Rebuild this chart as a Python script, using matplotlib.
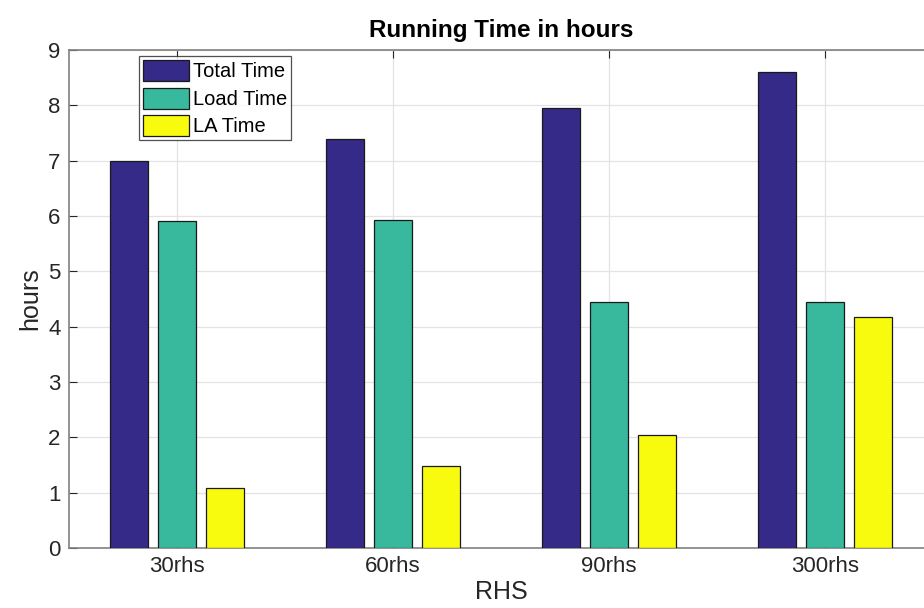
import numpy as np
import matplotlib.pyplot as plt

plt.rcParams['font.family'] = ['Liberation Sans', 'DejaVu Sans']

categories = ['30rhs', '60rhs', '90rhs', '300rhs']
total_time = [7.0, 7.4, 7.96, 8.61]
load_time = [5.91, 5.92, 4.44, 4.44]
la_time = [1.08, 1.49, 2.05, 4.17]

series = [('Total Time', total_time, '#352A87'),
          ('Load Time', load_time, '#38B89D'),
          ('LA Time', la_time, '#F9FB0E')]

fig = plt.figure(figsize=(9.24, 6.08), dpi=100)
# right edge of the axes runs past the figure, like the cropped original
ax = fig.add_axes([0.0747, 0.0987, 1.0097 - 0.0747, 0.9178 - 0.0987])

x = np.arange(1, len(categories) + 1)
step = 0.2222
width = 0.8 * step
for i, (name, vals, col) in enumerate(series):
    ax.bar(x + (i - 1) * step, vals, width, color=col, edgecolor='#1a1a1a',
           linewidth=0.9, label=name, zorder=3)

ax.set_xlim(0.5, 4.5)
ax.set_ylim(0, 9)
ax.set_xticks(x)
ax.set_xticklabels(categories)
ax.set_yticks(range(0, 10))
ax.tick_params(direction='in', length=6, width=0.8, color='#262626',
               labelsize=16, labelcolor='#262626', top=True, right=True, pad=6)
ax.grid(True, color='#E3E3E3', linewidth=0.9, zorder=0)
ax.set_axisbelow(True)
for s in ax.spines.values():
    s.set_color('#808080')
    s.set_linewidth(1.2)

ax.set_title('Running Time in hours', fontsize=17.5, fontweight='bold', pad=9)
ax.set_xlabel('RHS', fontsize=18, color='#262626', labelpad=2)
ax.set_ylabel('hours', fontsize=18, color='#262626', labelpad=4)

leg = ax.legend(loc='upper left', bbox_to_anchor=(0.0735, 1.0), fontsize=14.5,
                frameon=True, fancybox=False, edgecolor='#262626',
                handlelength=2.3, handleheight=1.25, handletextpad=0.2,
                labelspacing=0.3, borderpad=0.2, borderaxespad=0.3)
leg.get_frame().set_linewidth(0.9)

fig.savefig('out.png', dpi=100)
